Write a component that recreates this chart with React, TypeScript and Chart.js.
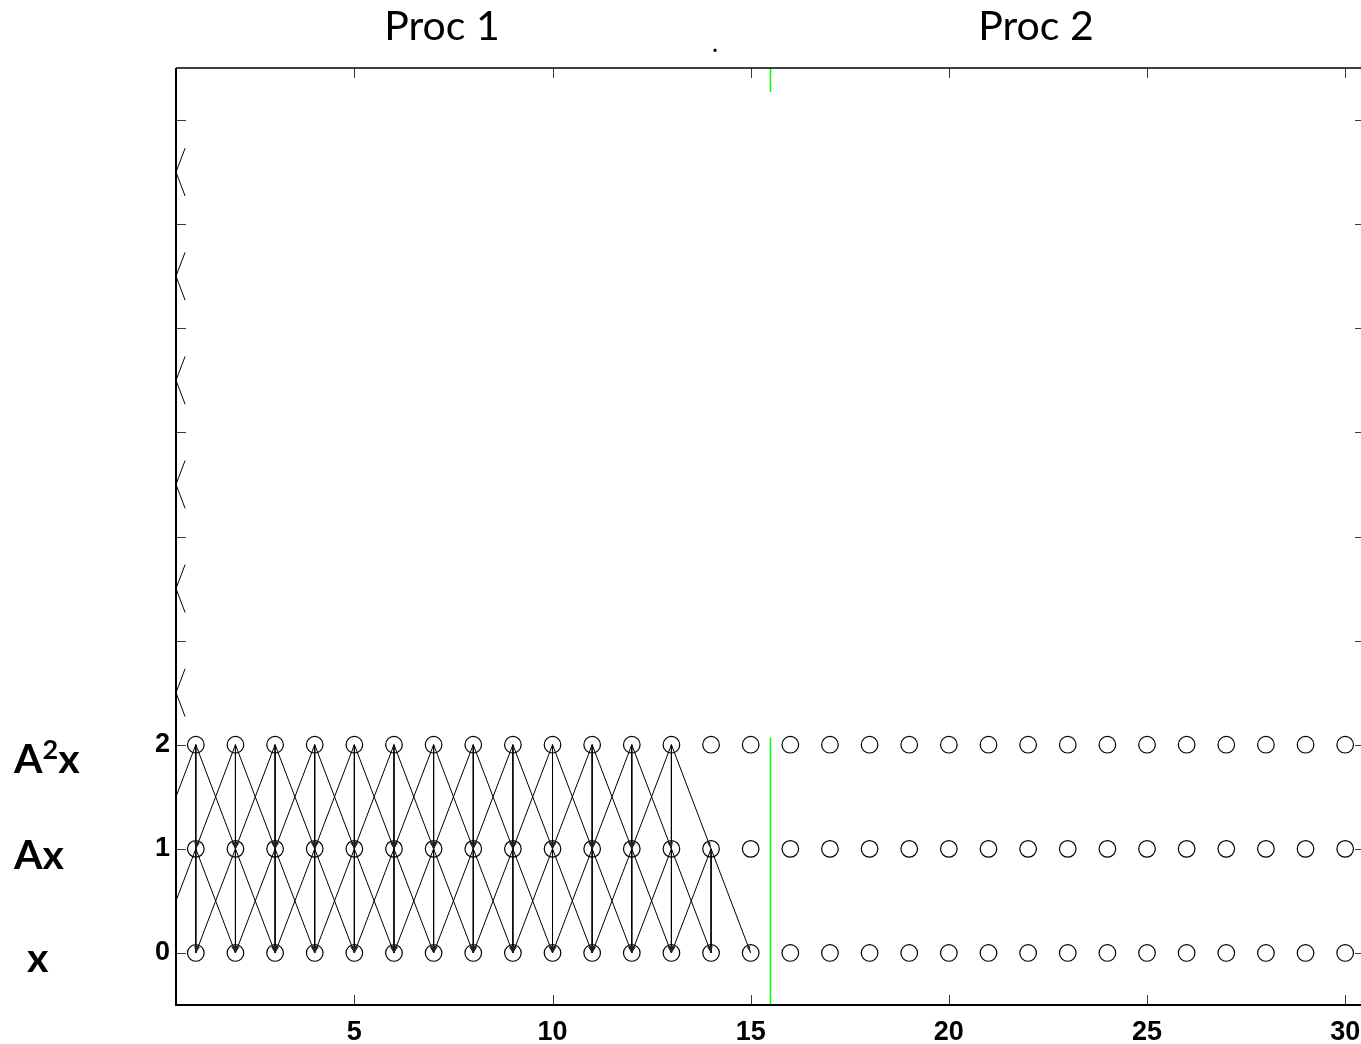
import React, { useEffect, useRef } from "react";
import { Chart, registerables } from "chart.js";

Chart.register(...registerables);

// ---------------- data ----------------
const nodeColumns = [1, 2, 3, 4, 5, 6, 7, 8, 9, 10, 11, 12, 13, 14, 15, 16, 17, 18, 19, 20, 21, 22, 23, 24, 25, 26, 27, 28, 29, 30];
const nodeLevels = [0, 1, 2];
const level1SourceColumns = [1, 2, 3, 4, 5, 6, 7, 8, 9, 10, 11, 12, 13, 14];
const level2SourceColumns = [1, 2, 3, 4, 5, 6, 7, 8, 9, 10, 11, 12, 13];
const stencilOffsets = [-1, 0, 1];
const xTickValues = [5, 10, 15, 20, 25, 30];
const yTickValues = [0, 1, 2, 3, 4, 5, 6, 7, 8];
const yTickLabels = ["0", "1", "2", "", "", "", "", "", ""];
const xRange = [0.5, 30.5];
const yRange = [-0.5, 8.5];
const ghostEdgeLevels = [2.5, 3.5, 4.5, 5.5, 6.5, 7.5];
const ghostEdgeReach = 0.23;
const boundaryColumn = 15.5;
const boundarySpans = [
  [-0.5, 2.07],
  [8.27, 8.5],
];
const procTitles = ["Proc 1", "Proc 2"];

type Edge = { x0: number; y0: number; x1: number; y1: number };
const edges: Edge[] = [];
([
  [2, level2SourceColumns],
  [1, level1SourceColumns],
] as [number, number[]][]).forEach(([lvl, cols]) =>
  cols.forEach((c) =>
    stencilOffsets.forEach((o) => edges.push({ x0: c, y0: lvl, x1: c + o, y1: lvl - 1 }))
  )
);

const framePlugin = {
  id: "frame",
  afterDatasetsDraw(chart: any) {
    const { ctx, chartArea: a, scales } = chart;
    const x = scales.x;
    const y = scales.y;
    ctx.save();
    ctx.beginPath();
    ctx.rect(a.left, a.top, a.right - a.left, a.bottom - a.top);
    ctx.clip();
    ctx.fillStyle = "#222";
    edges.forEach((e) => {
      if (e.x1 < xRange[0]) return;
      const px0 = x.getPixelForValue(e.x0);
      const py0 = y.getPixelForValue(e.y0);
      const px1 = x.getPixelForValue(e.x1);
      const py1 = y.getPixelForValue(e.y1);
      const ang = Math.atan2(py1 - py0, px1 - px0);
      const len = 7;
      const hw = 1.6;
      const bx = px1 - len * Math.cos(ang);
      const by = py1 - len * Math.sin(ang);
      ctx.beginPath();
      ctx.moveTo(px1, py1);
      ctx.lineTo(bx + hw * Math.sin(ang), by - hw * Math.cos(ang));
      ctx.lineTo(bx - hw * Math.sin(ang), by + hw * Math.cos(ang));
      ctx.closePath();
      ctx.fill();
    });
    ctx.restore();
  },
  afterDraw(chart: any) {
    const { ctx, chartArea: a, scales } = chart;
    const x = scales.x;
    const y = scales.y;
    ctx.save();
    ctx.strokeStyle = "#3a3a3a";
    ctx.lineWidth = 1;
    const tl = 10;
    ctx.beginPath();
    xTickValues.forEach((v) => {
      const px = Math.round(x.getPixelForValue(v)) + 0.5;
      ctx.moveTo(px, a.bottom);
      ctx.lineTo(px, a.bottom - tl);
      ctx.moveTo(px, a.top);
      ctx.lineTo(px, a.top + tl);
    });
    yTickValues.forEach((v) => {
      const py = Math.round(y.getPixelForValue(v)) + 0.5;
      ctx.moveTo(a.left, py);
      ctx.lineTo(a.left + tl, py);
      ctx.moveTo(a.right, py);
      ctx.lineTo(a.right - tl, py);
    });
    ctx.stroke();
    ctx.strokeStyle = "#000";
    ctx.lineWidth = 2;
    ctx.beginPath();
    ctx.moveTo(a.left, a.top);
    ctx.lineTo(a.left, a.bottom);
    ctx.lineTo(a.right, a.bottom);
    ctx.stroke();
    ctx.lineWidth = 1.5;
    ctx.beginPath();
    ctx.moveTo(a.left, a.top);
    ctx.lineTo(a.right, a.top);
    ctx.lineTo(a.right, a.bottom);
    ctx.stroke();
    ctx.restore();
  },
};

export default function App() {
  const canvasRef = useRef<HTMLCanvasElement | null>(null);

  useEffect(() => {
    const canvas = canvasRef.current;
    if (!canvas) return;

    const datasets: any[] = [];
    edges.forEach((e) =>
      datasets.push({
        data: [
          { x: e.x0, y: e.y0 },
          { x: e.x1, y: e.y1 },
        ],
        showLine: true,
        borderColor: "#000",
        borderWidth: 1,
        pointRadius: 0,
      })
    );
    ghostEdgeLevels.forEach((g) =>
      datasets.push({
        data: [
          { x: xRange[0] + ghostEdgeReach, y: g + ghostEdgeReach },
          { x: xRange[0], y: g },
          { x: xRange[0] + ghostEdgeReach, y: g - ghostEdgeReach },
        ],
        showLine: true,
        borderColor: "#000",
        borderWidth: 1,
        pointRadius: 0,
      })
    );
    boundarySpans.forEach((s) =>
      datasets.push({
        data: [
          { x: boundaryColumn, y: s[0] },
          { x: boundaryColumn, y: s[1] },
        ],
        showLine: true,
        borderColor: "#00ff00",
        borderWidth: 1.5,
        pointRadius: 0,
      })
    );
    const nodes: { x: number; y: number }[] = [];
    nodeLevels.forEach((l) => nodeColumns.forEach((c) => nodes.push({ x: c, y: l })));
    datasets.push({
      data: nodes,
      showLine: false,
      pointStyle: "circle",
      pointRadius: 8.3,
      pointBorderWidth: 1.2,
      pointBorderColor: "#000",
      pointBackgroundColor: "rgba(0,0,0,0)",
    });

    const tickFont = { family: "'Liberation Sans', Arial, sans-serif", weight: "bold", size: 27 };

    const chart = new Chart(canvas, {
      type: "scatter",
      data: { datasets },
      plugins: [framePlugin],
      options: {
        animation: false,
        responsive: false,
        devicePixelRatio: 1,
        events: [],
        layout: { padding: { left: 0, right: 15, top: 68, bottom: 0 } },
        plugins: { legend: { display: false }, tooltip: { enabled: false }, title: { display: false } },
        scales: {
          x: {
            type: "linear",
            min: xRange[0],
            max: xRange[1],
            grid: { display: false, drawTicks: false },
            border: { display: false },
            afterBuildTicks: (s: any) => {
              s.ticks = xTickValues.map((v) => ({ value: v }));
            },
            afterFit: (s: any) => {
              s.height = 39;
            },
            ticks: {
              padding: 11,
              maxRotation: 0,
              autoSkip: false,
              color: "#000",
              font: tickFont,
              callback: (v: any) => String(v),
            },
          },
          y: {
            type: "linear",
            min: yRange[0],
            max: yRange[1],
            grid: { display: false, drawTicks: false },
            border: { display: false },
            afterBuildTicks: (s: any) => {
              s.ticks = yTickValues.map((v) => ({ value: v }));
            },
            afterFit: (s: any) => {
              s.width = 176;
            },
            ticks: {
              padding: 6,
              autoSkip: false,
              color: "#000",
              font: tickFont,
              callback: (_v: any, i: number) => yTickLabels[i],
            },
          },
        },
      } as any,
    });
    return () => chart.destroy();
  }, []);

  const titleStyle: React.CSSProperties = {
    position: "absolute",
    fontFamily: "Lato, 'Open Sans', sans-serif",
    fontSize: 41,
    lineHeight: "41px",
    color: "#000",
    transform: "translateX(-50%)",
    whiteSpace: "nowrap",
  };
  const sideStyle: React.CSSProperties = {
    position: "absolute",
    fontFamily: "Lato, 'Open Sans', sans-serif",
    fontWeight: "bold",
    fontSize: 41,
    lineHeight: "41px",
    color: "#000",
    whiteSpace: "nowrap",
  };

  return (
    <div style={{ position: "absolute", left: 0, top: 0, width: 1361, height: 1044, overflow: "hidden", background: "#fff" }}>
      <canvas ref={canvasRef} width={1380} height={1044} style={{ position: "absolute", left: 0, top: 0, width: 1380, height: 1044 }} />
      <div style={{ ...titleStyle, left: 442, top: 4 }}>{procTitles[0]}</div>
      <div style={{ ...titleStyle, left: 1036, top: 4 }}>{procTitles[1]}</div>
      <div style={{ ...titleStyle, left: 715, top: 22, fontSize: 26 }}>.</div>
      <div style={{ ...sideStyle, left: 14, top: 737 }}>
        A<sup style={{ fontSize: 27, verticalAlign: "14px", lineHeight: 0 }}>2</sup>x
      </div>
      <div style={{ ...sideStyle, left: 14, top: 833 }}>Ax</div>
      <div style={{ ...sideStyle, left: 27, top: 936 }}>x</div>
    </div>
  );
}
